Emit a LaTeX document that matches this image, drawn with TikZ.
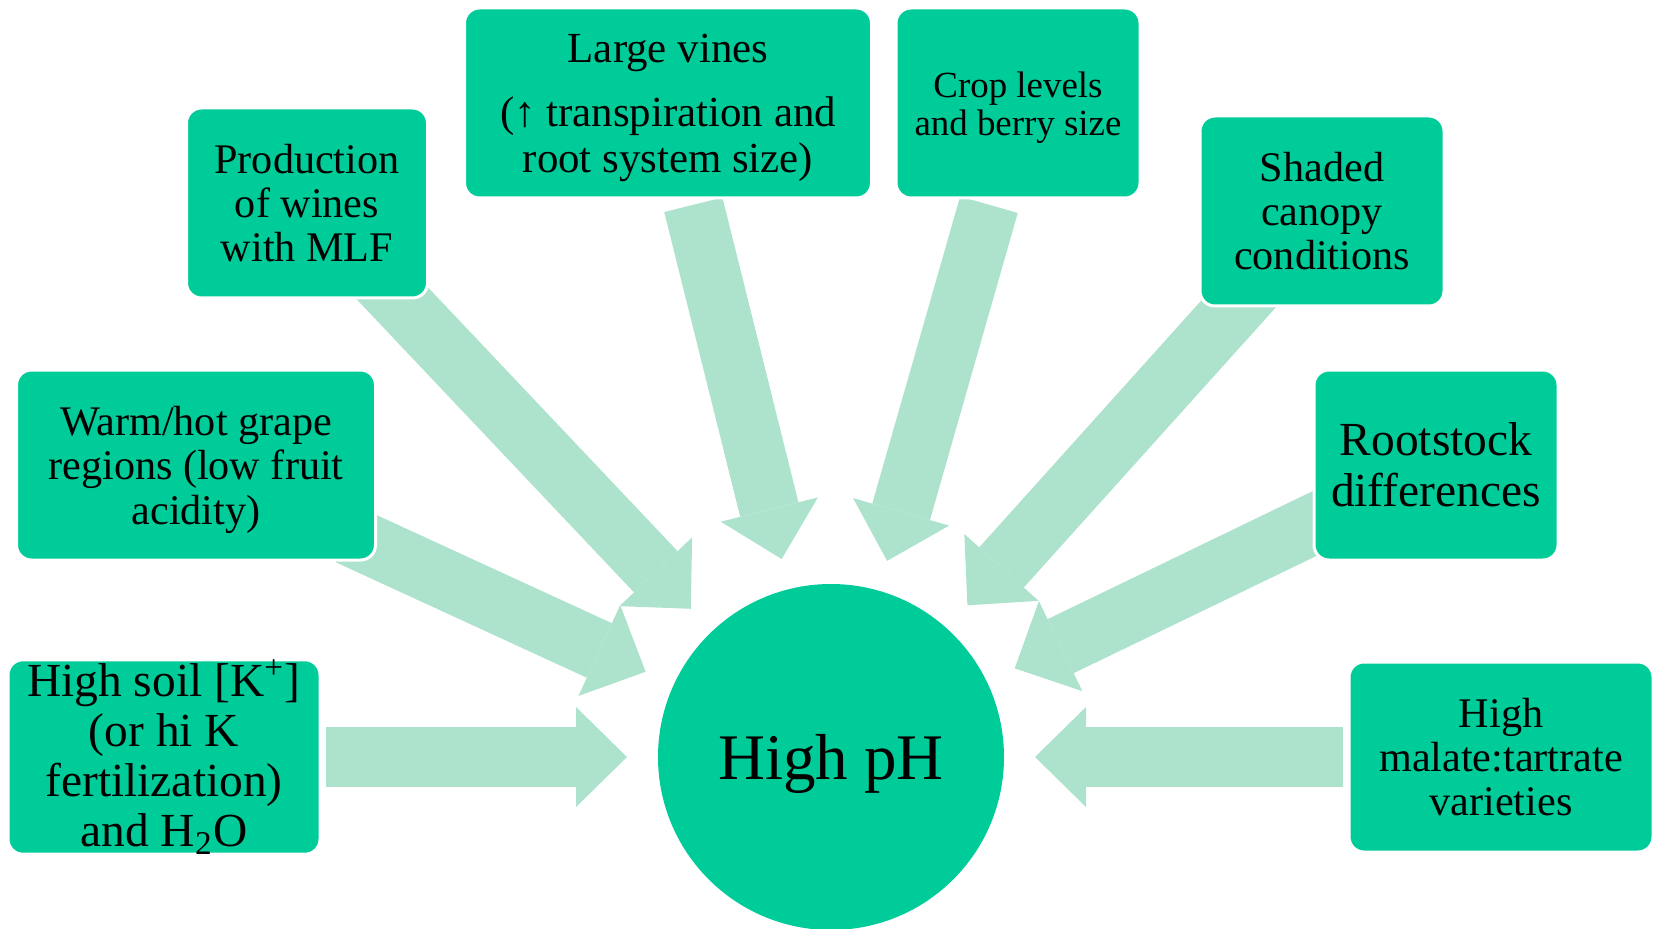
\documentclass[tikz,border=0pt]{standalone}
\usepackage{fontspec}
\setmainfont{Liberation Serif}
\usetikzlibrary{arrows.meta, backgrounds}
\definecolor{PHGreen}{RGB}{0, 204, 153}
\definecolor{PHMint}{RGB}{173, 227, 204}
\newcommand{\dropstrut}[1]{\rule{0pt}{#1}}

\begin{document}
\begin{tikzpicture}[x=0.1mm, y=-0.1mm,
	cause/.style={rectangle, rounded corners=1.5mm, fill=PHGreen, draw=white, line width=0.3mm,
		align=center, inner sep=0pt, outer sep=0pt, minimum height=19mm, font=\fontsize{12}{12.6}\selectfont},
	feed/.style={draw=PHMint, line width=6mm, -{Triangle[length=5.1mm, width=10mm, line width=0pt]},
		shorten >=3.1mm, shorten <=0.6mm},
	deep/.style={shorten <=-3mm}]
	\useasboundingbox (0,0) rectangle (1655,929);
	\node[circle, fill=PHGreen, inner sep=0pt, outer sep=0pt, minimum size=34.6mm, text depth=0pt,
		font=\fontsize{18.5}{20}\selectfont] (ph) at (831,757) {High pH};
	\node[cause, minimum width=31.2mm, font=\fontsize{13.5}{14.2}\selectfont] (soil) at (164,757)
		{High soil [K\textsuperscript{+}]\\(or hi K\\fertilization)\\and H\textsubscript{2}O};
	\node[cause, minimum width=35.9mm] (warm) at (196,465) {\dropstrut{11pt}Warm/hot grape\\regions (low fruit\\acidity)};
	\node[cause, minimum width=24.1mm] (mlf) at (307,203) {Production\\of wines\\with MLF};
	\node[cause, minimum width=40.7mm, font=\fontsize{12.2}{13.2}\selectfont] (vines) at (668,103)
		{\dropstrut{11pt}Large vines\\[4.8pt](↑ transpiration and\\root system size)};
	\node[cause, minimum width=24.4mm, font=\fontsize{10.5}{10.8}\selectfont] (crop) at (1018,103)
		{\dropstrut{10pt}Crop levels\\and berry size};
	\node[cause, minimum width=24.4mm] (shade) at (1322,211) {Shaded\\canopy\\conditions};
	\node[cause, minimum width=24.4mm, font=\fontsize{13.5}{14.4}\selectfont] (root) at (1436,465) {Rootstock\\differences};
	\node[cause, minimum width=30.4mm] (malate) at (1501,757) {High\\malate:tartrate\\varieties};
	% fat arrows behind the boxes
	\begin{scope}[on background layer]
		\draw[feed] (soil) -- (ph);
		\draw[feed, deep] (warm) -- (ph);
		\draw[feed, deep] (mlf) -- (ph);
		\draw[feed, shorten <=0.7mm] (vines) -- (ph);
		\draw[feed, shorten <=0.7mm] (crop) -- (ph);
		\draw[feed, deep] (shade) -- (ph);
		\draw[feed, deep] (root) -- (ph);
		\draw[feed] (malate) -- (ph);
	\end{scope}
\end{tikzpicture}
\end{document}
